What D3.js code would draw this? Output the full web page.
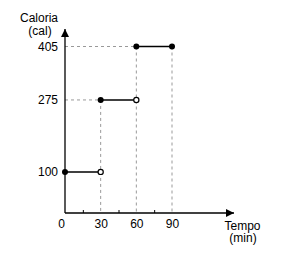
<!DOCTYPE html>
<html lang="pt">
<head>
<meta charset="UTF-8">
<title>Caloria x Tempo</title>
<script src="https://d3js.org/d3.v7.min.js"></script>
<style>
  body { margin: 0; background: #fff; }
  text { font-family: "Liberation Sans", Arial, sans-serif; font-size: 12px; fill: #000; }
</style>
</head>
<body>
<svg id="chart" width="281" height="257"></svg>
<script>
// dados
const xTicks = [0, 30, 60, 90];
const xMinor = [15, 45, 75];
const yTicks = [100, 275, 405];
// degraus: início, fim, valor, fechado no fim
const starts = [0, 30, 60];
const ends = [30, 60, 90];
const values = [100, 275, 405];
const closedEnd = [false, false, true];

const svg = d3.select("#chart");
const x = d3.scaleLinear().domain([0, 90]).range([65, 172]);
const y = d3.scaleLinear().domain([0, 405]).range([213, 46.5]);
const x0 = x(0), y0 = y(0);

// linhas pontilhadas de referência
const guide = svg.append("g")
    .attr("stroke", "#999")
    .attr("stroke-width", 1)
    .attr("stroke-dasharray", "3,3");
values.forEach((v, i) => {
    if (i === 0) return;
    guide.append("line")
        .attr("x1", x0).attr("x2", x(starts[i]))
        .attr("y1", y(v)).attr("y2", y(v));
});
[[30, 275], [60, 405], [90, 405]].forEach(d => {
    guide.append("line")
        .attr("x1", x(d[0])).attr("x2", x(d[0]))
        .attr("y1", y(d[1])).attr("y2", y0);
});

// eixos com setas
svg.append("defs").append("marker")
    .attr("id", "arrow")
    .attr("viewBox", "0 0 10 10")
    .attr("refX", 10).attr("refY", 5)
    .attr("markerWidth", 8).attr("markerHeight", 8)
    .attr("markerUnits", "userSpaceOnUse")
    .attr("orient", "auto")
    .append("path").attr("d", "M0,0L10,5L0,10Z").attr("fill", "#000");

svg.append("line")
    .attr("x1", x0).attr("y1", y0).attr("x2", 234).attr("y2", y0)
    .attr("stroke", "#000").attr("stroke-width", 1.3)
    .attr("marker-end", "url(#arrow)");
svg.append("line")
    .attr("x1", x0).attr("y1", y0).attr("x2", x0).attr("y2", 29)
    .attr("stroke", "#000").attr("stroke-width", 1.3)
    .attr("marker-end", "url(#arrow)");

// marcas menores
const minor = svg.append("g")
    .attr("transform", `translate(0,${y0})`)
    .call(d3.axisBottom(x).tickValues(xMinor).tickSize(-3).tickFormat(""));
minor.select(".domain").remove();
minor.selectAll("line").attr("stroke", "#000");

// rótulos do eixo x
const xa = svg.append("g")
    .attr("transform", `translate(0,${y0})`)
    .call(d3.axisBottom(x).tickValues(xTicks).tickSize(0).tickPadding(6));
xa.select(".domain").remove();
xa.selectAll("text")
    .style("font-size", "12px")
    .attr("font-family", null)
    .attr("dx", d => d === 0 ? -4 : 0);

// rótulos do eixo y
const ya = svg.append("g")
    .attr("transform", `translate(${x0},0)`)
    .call(d3.axisLeft(y).tickValues(yTicks).tickSize(0).tickPadding(7));
ya.select(".domain").remove();
ya.selectAll("text").style("font-size", "12px").attr("font-family", null);

// títulos
svg.append("text").attr("x", 39).attr("y", 22).attr("text-anchor", "middle").text("Caloria");
svg.append("text").attr("x", 40).attr("y", 34.5).attr("text-anchor", "middle").text("(cal)");
svg.append("text").attr("x", 242.5).attr("y", 229.5).attr("text-anchor", "middle").text("Tempo");
svg.append("text").attr("x", 243).attr("y", 242).attr("text-anchor", "middle").text("(min)");

// degraus
values.forEach((v, i) => {
    svg.append("line")
        .attr("x1", x(starts[i])).attr("x2", x(ends[i]))
        .attr("y1", y(v)).attr("y2", y(v))
        .attr("stroke", "#000").attr("stroke-width", 1.5);
    svg.append("circle")
        .attr("cx", x(starts[i])).attr("cy", y(v)).attr("r", 3)
        .attr("fill", "#000");
    svg.append("circle")
        .attr("cx", x(ends[i])).attr("cy", y(v)).attr("r", closedEnd[i] ? 3 : 2.6)
        .attr("fill", closedEnd[i] ? "#000" : "#fff")
        .attr("stroke", closedEnd[i] ? "none" : "#000").attr("stroke-width", 1.2);
});
</script>
</body>
</html>
